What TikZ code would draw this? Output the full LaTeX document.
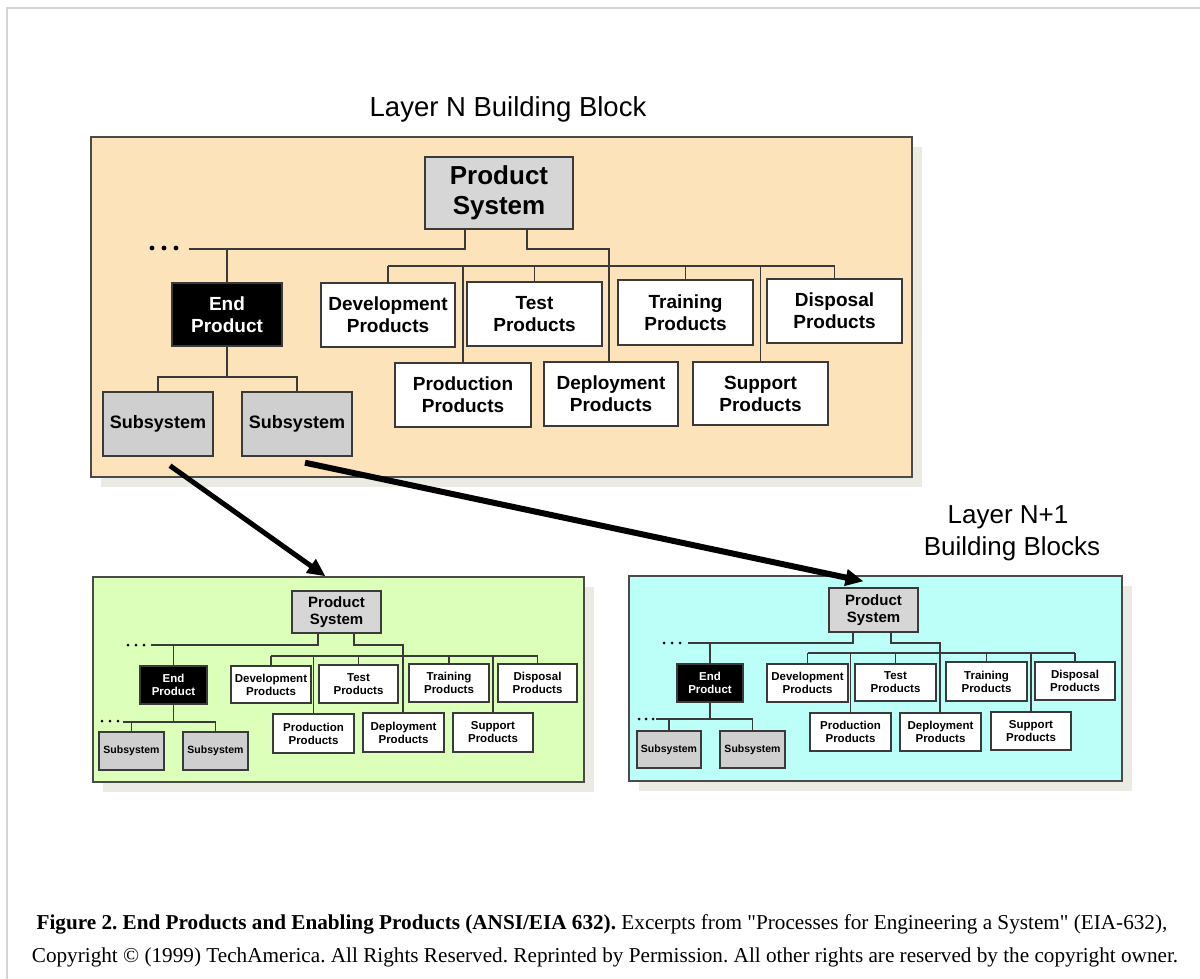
\documentclass[tikz,border=0pt]{standalone}
\usepackage{fontspec}
\newfontfamily\capfont{Liberation Serif}
\newfontfamily\arialf{Liberation Sans}
\usetikzlibrary{arrows.meta,calc}
\definecolor{peach}{HTML}{FCE3BA}
\definecolor{lgreen}{HTML}{DCFFBA}
\definecolor{lcyan}{HTML}{BCFFF8}
\definecolor{shadowc}{HTML}{ECEBE3}
\definecolor{boxline}{HTML}{3A3A3A}
\definecolor{blkline}{HTML}{4A4A4A}
\definecolor{psgray}{HTML}{D6D6D6}
\definecolor{ssgray}{HTML}{CFCFCF}
\definecolor{framec}{HTML}{D4D4D4}
\newcommand{\bx}[7]{\node[#1, minimum width={(#4)-(#2)}, minimum height={(#5)-(#3)}] (#6) at ({((#2)+(#4))/2},{((#3)+(#5))/2}) {#7};}
\tikzset{
  base box/.style={draw=boxline, line width=1.4pt, inner sep=0pt, align=center},
  bigtxt/.style={font=\arialf\bfseries\fontsize{26}{30}\selectfont},
  midtxt/.style={font=\arialf\bfseries\fontsize{19}{22}\selectfont},
  subtxt/.style={font=\arialf\bfseries\fontsize{18}{20}\selectfont},
  sbig/.style={font=\arialf\bfseries\fontsize{15}{17}\selectfont},
  smid/.style={font=\arialf\bfseries\fontsize{11.5}{13}\selectfont},
  ssub/.style={font=\arialf\bfseries\fontsize{10.5}{12}\selectfont},
  psbox/.style={base box, fill=psgray},
  wbox/.style={base box, fill=white},
  ebox/.style={base box, fill=black, text=white},
  sbox/.style={base box, fill=ssgray},
  link/.style={draw=boxline, line width=1.4pt},
  slink/.style={draw=boxline, line width=1.1pt},
  blk/.style={draw=blkline, line width=1.6pt},
  shd/.style={fill=shadowc},
  bigarrow/.style={line width=5pt, -{Triangle[length=18pt,width=16pt]}},
  dotc/.style={fill=black},
  captxt/.style={font=\capfont\frenchspacing\fontsize{21.2}{25}\selectfont, anchor=base, inner sep=0pt},
  titletxt/.style={font=\arialf\fontsize{27}{30}\selectfont, anchor=base, inner sep=0pt},
}
\begin{document}
\begin{tikzpicture}[x=1pt,y=-1pt]
\useasboundingbox (0,0) rectangle (1200,979);
% frame
\draw[framec, line width=1.5pt] (7,979) -- (7,8) -- (1200,8);

% titles
\node[titletxt, font=\arialf\fontsize{27.5}{30}\selectfont] (titleN) at (508,117) {Layer N Building Block};
\node[titletxt, font=\arialf\fontsize{26}{30}\selectfont] (titleN1a) at (1008,523) {Layer N+1};
\node[titletxt, font=\arialf\fontsize{26}{30}\selectfont] (titleN1b) at (1012,555) {Building Blocks};

% ================= top block =================
\fill[shd] (101,147) rectangle (922,487);
\filldraw[blk, fill=peach] (91,137) rectangle (912,477);

\bx{psbox,bigtxt}{425}{157}{573}{229}{ps}{Product\\System}
\bx{ebox,midtxt}{172}{283}{282}{346}{ep}{End\\Product}
\bx{sbox,subtxt}{103}{392}{213}{456}{ss1}{Subsystem}
\bx{sbox,subtxt}{242}{392}{352}{456}{ss2}{Subsystem}
\bx{wbox,midtxt}{321}{283}{455}{347}{dev}{Development\\Products}
\bx{wbox,midtxt}{467}{282}{602}{346}{test}{Test\\Products}
\bx{wbox,midtxt}{618}{280}{753}{345}{train}{Training\\Products}
\bx{wbox,midtxt}{767}{279}{902}{343}{disp}{Disposal\\Products}
\bx{wbox,midtxt}{395}{363}{531}{427}{prod}{Production\\Products}
\bx{wbox,midtxt}{544}{362}{678}{426}{depl}{Deployment\\Products}
\bx{wbox,midtxt}{693}{362}{828}{425}{supp}{Support\\Products}

\coordinate (tj1) at (465,249);
\coordinate (tdl) at (189,249);
\coordinate (tj2) at (527,249);
\coordinate (tj3) at (609,249);
\coordinate (tbus) at (0,266);
\coordinate (tsub) at (0,377);
\draw[link] (ps.south -| tj1) -- (tj1) -- (tdl);
\draw[link] (ep.north) -- (ep.north |- tj1);
\draw[link] (ps.south -| tj2) -- (tj2) -- (tj3) -- (tj3 |- depl.north);
\draw[link] (dev.north |- tbus) -- (disp.north |- tbus);
\foreach \n in {dev,test,train,disp,prod,supp} \draw[link] (\n.north) -- (\n.north |- tbus);
\draw[link] (ep.south) -- (ep.south |- tsub);
\draw[link] (ss1.north) -- (ss1.north |- tsub) -- (ss2.north |- tsub) -- (ss2.north);
\foreach \x in {152,164,176} \fill[dotc] (\x,248) circle (2.4);

% ================= green block =================
\fill[shd] (103,587) rectangle (594,792);
\filldraw[blk, fill=lgreen] (93,577) rectangle (584,782);

\bx{psbox,sbig}{292}{591}{381}{633}{gps}{Product\\System}
\bx{ebox,smid}{140}{666}{207}{704}{gep}{End\\Product}
\bx{sbox,ssub}{99}{732}{164}{770}{gss1}{Subsystem}
\bx{sbox,ssub}{183}{732}{248}{770}{gss2}{Subsystem}
\bx{wbox,smid}{231}{666}{311}{703}{gdev}{Development\\Products}
\bx{wbox,smid}{319}{665}{398}{703}{gtest}{Test\\Products}
\bx{wbox,smid}{409}{664}{489}{702}{gtrain}{Training\\Products}
\bx{wbox,smid}{498}{664}{577}{702}{gdisp}{Disposal\\Products}
\bx{wbox,smid}{273}{714}{354}{753}{gprod}{Production\\Products}
\bx{wbox,smid}{363}{713}{444}{752}{gdepl}{Deployment\\Products}
\bx{wbox,smid}{453}{713}{533}{752}{gsupp}{Support\\Products}

\coordinate (gj1) at (318,645);
\coordinate (gdl) at (151,645);
\coordinate (gj2) at (354,645);
\coordinate (gj3) at (403,645);
\coordinate (gbus) at (0,656);
\coordinate (gsub) at (0,722);
\coordinate (gsl) at (123,722);
\draw[slink] (gps.south -| gj1) -- (gj1) -- (gdl);
\draw[slink] (gep.north) -- (gep.north |- gj1);
\draw[slink] (gps.south -| gj2) -- (gj2) -- (gj3) -- (gj3 |- gdepl.north);
\draw[slink] (gdev.north |- gbus) -- (gdisp.north |- gbus);
\foreach \n in {gdev,gtest,gtrain,gdisp,gprod,gsupp} \draw[slink] (\n.north) -- (\n.north |- gbus);
\draw[slink] (gep.south) -- (gep.south |- gsub);
\draw[slink] (gsl) -- (gss2.north |- gsub) -- (gss2.north);
\draw[slink] (gss1.north) -- (gss1.north |- gsub);
\foreach \x in {128,136,144} \fill[dotc] (\x,645) circle (1.5);
\foreach \x in {102,110,118} \fill[dotc] (\x,721) circle (1.5);

% ================= cyan block =================
\fill[shd] (639,586) rectangle (1132,791);
\filldraw[blk, fill=lcyan] (629,576) rectangle (1122,781);

\bx{psbox,sbig}{829}{588}{918}{632}{cps}{Product\\System}
\bx{ebox,smid}{677}{664}{743}{702}{cep}{End\\Product}
\bx{sbox,ssub}{637}{731}{701}{768}{css1}{Subsystem}
\bx{sbox,ssub}{720}{731}{785}{768}{css2}{Subsystem}
\bx{wbox,smid}{767}{664}{848}{702}{cdev}{Development\\Products}
\bx{wbox,smid}{855}{664}{936}{701}{ctest}{Test\\Products}
\bx{wbox,smid}{946}{662}{1027}{701}{ctrain}{Training\\Products}
\bx{wbox,smid}{1035}{662}{1115}{700}{cdisp}{Disposal\\Products}
\bx{wbox,smid}{810}{713}{891}{751}{cprod}{Production\\Products}
\bx{wbox,smid}{900}{713}{981}{751}{cdepl}{Deployment\\Products}
\bx{wbox,smid}{991}{712}{1071}{750}{csupp}{Support\\Products}

\coordinate (cj1) at (853,643);
\coordinate (cdl) at (688,643);
\coordinate (cj2) at (891,643);
\coordinate (cj3) at (940,643);
\coordinate (cbus) at (0,653);
\coordinate (csub) at (0,719);
\coordinate (csl) at (656,719);
\draw[slink] (cps.south -| cj1) -- (cj1) -- (cdl);
\draw[slink] (cep.north) -- (cep.north |- cj1);
\draw[slink] (cps.south -| cj2) -- (cj2) -- (cj3) -- (cj3 |- cdepl.north);
\draw[slink] (cdev.north |- cbus) -- (cdisp.north |- cbus);
\foreach \n in {cdev,ctest,ctrain,cdisp,cprod,csupp} \draw[slink] (\n.north) -- (\n.north |- cbus);
\draw[slink] (cep.south) -- (cep.south |- csub);
\draw[slink] (csl) -- (css2.north |- csub) -- (css2.north);
\draw[slink] (css1.north) -- (css1.north |- csub);
\foreach \x in {664,672,680} \fill[dotc] (\x,643) circle (1.5);
\foreach \x in {639,646,653} \fill[dotc] (\x,719) circle (1.5);

% ================= arrows =================
\draw[bigarrow] ($(ss1.south)+(12,9)$) -- ($(gps.north)+(-11,-14)$);
\draw[bigarrow, line width=6pt] ($(ss2.south)+(8,6)$) -- ($(cps.north)+(-10,-6)$);

% ================= caption =================
\node[captxt] (cap1) at (602,929) {\textbf{Figure 2. End Products and Enabling Products (ANSI/EIA 632).} Excerpts from "Processes for Engineering a System" (EIA-632),};
\node[captxt] (cap2) at (605,962) {Copyright © (1999) TechAmerica. All Rights Reserved. Reprinted by Permission. All other rights are reserved by the copyright owner.};
\end{tikzpicture}
\end{document}
